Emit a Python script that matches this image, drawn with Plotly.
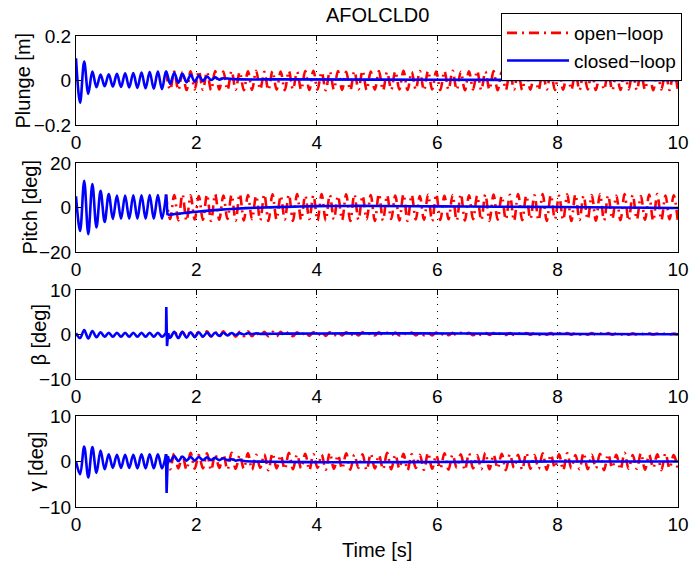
import plotly.graph_objects as go

# ---------------- data ----------------
HALF_PERIOD = 0.068          # half period of the limit-cycle oscillation [s]
t_grid = [round(k * HALF_PERIOD, 3) for k in range(148)]   # sampling of extrema, 0 .. 10 s
N_PRE = 23                   # extrema before control switch-on (t <= 1.5 s)

# closed-loop, before control (identical to open-loop there)
plunge_pre = [0.100, -0.100, 0.085, -0.060, 0.040, -0.030, 0.027, -0.026, 0.028, -0.027, 0.030, -0.029,
              0.032, -0.031, 0.034, -0.033, 0.036, -0.035, 0.038, -0.037, 0.040, -0.039, 0.041]
pitch_pre = [5.0, -10.5, 12.0, -12.0, 10.5, -9.0, 7.5, -6.5, 6.0, -5.2, 5.4, -5.0, 5.4, -5.0, 5.5, -5.0,
             5.5, -5.0, 5.6, -5.0, 5.6, -5.0, 5.8]
beta_pre = [0.3, -0.8, 1.0, -0.9, 0.8, -0.6, 0.5, -0.5, 0.4, -0.5, 0.4, -0.5, 0.4, -0.5, 0.4, -0.5,
            0.4, -0.5, 0.4, -0.5, 0.4, -0.5, 0.4]
gamma_pre = [0.0, -2.8, 3.3, -3.5, 3.2, -2.5, 2.4, -1.7, 1.6, -1.4, 1.5, -1.4, 1.5, -1.4, 1.5, -1.5,
             1.6, -1.5, 1.6, -1.5, 1.6, -1.5, 1.6]

# closed-loop after switch-on
plunge_post = [-0.015, 0.035, -0.010, 0.030, -0.008, 0.026, -0.005, 0.022, -0.002, 0.018, 0.002, 0.014, 0.004, 0.010]
plunge_tail_t = [2.6, 3.5, 5.0, 7.0, 8.5, 10.0]
plunge_tail_v = [0.006, 0.005, 0.004, 0.003, 0.002, 0.001]

pitch_jump_t = [1.496, 1.52]
pitch_jump_v = [5.8, -3.4]
pitch_tail_t = [1.52, 1.6, 1.8, 2.0, 2.25, 2.5, 2.75, 3.0, 3.5, 4.0, 4.5, 5.0, 6.0, 7.0, 8.0, 9.0, 10.0]
pitch_tail_v = [-3.4, -3.1, -2.5, -1.9, -1.3, -0.8, -0.4, -0.1, 0.3, 0.6, 0.7, 0.7, 0.5, 0.35, 0.2, 0.0, -0.2]

beta_spike_t = [1.496, 1.50, 1.512, 1.53]
beta_spike_v = [0.4, 6.2, -2.6, 0.3]
beta_post = [-0.8, 0.6, -0.8, 0.6, -0.7, 0.5, -0.6, 0.5, -0.5, 0.45, -0.4, 0.4, -0.3, 0.4, -0.2, 0.35,
             -0.1, 0.3, 0.0, 0.3, 0.1, 0.25, 0.15]
beta_tail_t = [3.5, 4.5, 5.5, 7.0, 8.5, 10.0]
beta_tail_v = [0.2, 0.25, 0.25, 0.2, 0.1, 0.05]

gamma_spike_t = [1.496, 1.505, 1.525]
gamma_spike_v = [1.6, -6.9, 1.2]
gamma_post = [0.0, 1.2, 0.1, 1.1, 0.2, 1.0, 0.2, 1.0, 0.3, 0.9, 0.3, 0.8, 0.3, 0.7, 0.3, 0.5, 0.2, 0.35, 0.1]
gamma_tail_t = [3.2, 4.0, 5.0, 6.0, 7.0, 8.0, 9.0, 10.0]
gamma_tail_v = [-0.05, -0.15, -0.15, -0.1, -0.05, 0.0, 0.0, 0.0]

# open-loop after 1.5 s (extrema on t_grid[22:])
plunge_open = [
    0.041, -0.042, 0.040, -0.044, 0.038, -0.043, 0.041, -0.040, 0.043, -0.041, 0.039, -0.044, 0.042, -0.040,
    0.040, -0.043, 0.043, -0.041, 0.038, -0.044, 0.041, -0.042, 0.044, -0.040, 0.039, -0.043, 0.042, -0.041,
    0.040, -0.044, 0.043, -0.040, 0.039, -0.042, 0.042, -0.043, 0.044, -0.041, 0.038, -0.044, 0.041, -0.040,
    0.043, -0.042, 0.039, -0.044, 0.042, -0.040, 0.044, -0.043, 0.040, -0.041, 0.042, -0.044, 0.038, -0.042,
    0.041, -0.040, 0.044, -0.043, 0.039, -0.041, 0.042, -0.044, 0.043, -0.040, 0.040, -0.043, 0.042, -0.041,
    0.044, -0.042, 0.039, -0.044, 0.041, -0.040, 0.043, -0.043, 0.040, -0.041, 0.042, -0.044, 0.038, -0.042,
    0.041, -0.040, 0.044, -0.043, 0.039, -0.041, 0.042, -0.044, 0.043, -0.040, 0.040, -0.043, 0.042, -0.041,
    0.044, -0.042, 0.039, -0.044, 0.041, -0.040, 0.043, -0.043, 0.040, -0.041, 0.042, -0.044, 0.038, -0.042,
    0.041, -0.040, 0.044, -0.043, 0.039, -0.041, 0.042, -0.044, 0.043, -0.040, 0.040, -0.043, 0.042, -0.041]
pitch_open = [
    5.8, -5.2, 5.6, -5.8, 5.9, -6.0, 5.5, -5.4, 5.2, -5.6, 5.8, -6.0, 6.0, -5.5,
    5.4, -5.2, 5.7, -5.9, 6.1, -5.8, 5.6, -5.3, 5.3, -5.7, 5.9, -6.1, 5.9, -5.4,
    5.3, -5.4, 5.8, -6.0, 6.0, -5.6, 5.4, -5.2, 5.5, -5.9, 6.1, -5.9, 5.7, -5.3,
    5.2, -5.6, 5.9, -6.1, 5.9, -5.5, 5.3, -5.3, 5.6, -6.0, 6.1, -5.8, 5.5, -5.2,
    5.4, -5.8, 6.0, -6.0, 5.7, -5.4, 5.2, -5.5, 5.8, -6.1, 6.0, -5.6, 5.3, -5.3,
    5.6, -5.9, 6.1, -5.9, 5.5, -5.3, 5.3, -5.7, 5.9, -6.0, 5.8, -5.5, 5.2, -5.4,
    5.7, -6.0, 6.0, -5.7, 5.4, -5.2, 5.5, -5.8, 6.0, -6.0, 5.6, -5.3, 5.3, -5.6,
    5.9, -6.1, 5.9, -5.6, 5.3, -5.3, 5.6, -5.9, 6.1, -5.8, 5.5, -5.2, 5.4, -5.7,
    6.0, -6.0, 5.7, -5.4, 5.2, -5.5, 5.8, -6.0, 6.0, -5.7, 5.4, -5.3, 5.5, -5.8]
beta_open = [
    0.4, -0.6, 0.7, -0.5, 0.6, -0.6, 0.7, -0.5, 0.6, -0.5, 0.7, -0.5, 0.6, -0.5,
    0.7, -0.4, 0.6, -0.5, 0.6, -0.4, 0.7, -0.4, 0.6, -0.4, 0.6, -0.4, 0.6, -0.4,
    0.6, -0.3, 0.6, -0.4, 0.5, -0.3, 0.6, -0.3, 0.5, -0.3, 0.6, -0.3, 0.5, -0.3,
    0.5, -0.2, 0.5, -0.3, 0.5, -0.2, 0.5, -0.2, 0.4, -0.2, 0.5, -0.2, 0.4, -0.2,
    0.45, -0.2, 0.4, -0.15, 0.45, -0.2, 0.4, -0.15, 0.4, -0.2, 0.45, -0.15, 0.4, -0.15,
    0.4, -0.15, 0.4, -0.1, 0.4, -0.15, 0.35, -0.1, 0.4, -0.1, 0.35, -0.1, 0.4, -0.1,
    0.35, -0.1, 0.35, -0.1, 0.35, -0.05, 0.3, -0.1, 0.35, -0.05, 0.3, -0.1, 0.3, -0.05,
    0.3, -0.05, 0.3, -0.05, 0.3, -0.05, 0.3, -0.05, 0.25, -0.05, 0.3, -0.05, 0.25, -0.05,
    0.25, -0.05, 0.25, 0.0, 0.25, -0.05, 0.25, 0.0, 0.2, 0.0, 0.25, 0.0, 0.2, 0.0]
gamma_open = [
    1.6, -1.7, 1.8, -1.5, 1.4, -1.8, 1.9, -1.6, 1.4, -1.5, 1.8, -1.9, 1.6, -1.4,
    1.5, -1.8, 1.9, -1.6, 1.4, -1.6, 1.8, -1.8, 1.5, -1.4, 1.6, -1.9, 1.8, -1.5,
    1.4, -1.7, 1.9, -1.7, 1.5, -1.5, 1.7, -1.9, 1.6, -1.4, 1.5, -1.8, 1.9, -1.6,
    1.4, -1.6, 1.8, -1.8, 1.5, -1.4, 1.6, -1.9, 1.7, -1.5, 1.4, -1.7, 1.9, -1.7,
    1.5, -1.5, 1.7, -1.9, 1.6, -1.4, 1.5, -1.8, 1.9, -1.6, 1.4, -1.6, 1.8, -1.8,
    1.5, -1.4, 1.6, -1.9, 1.8, -1.5, 1.4, -1.7, 1.9, -1.7, 1.5, -1.5, 1.7, -1.9,
    1.6, -1.4, 1.5, -1.8, 1.9, -1.6, 1.4, -1.6, 1.8, -1.8, 1.5, -1.4, 1.6, -1.9,
    1.8, -1.5, 1.4, -1.7, 1.9, -1.7, 1.5, -1.5, 1.7, -1.9, 1.6, -1.4, 1.5, -1.8,
    1.9, -1.6, 1.4, -1.6, 1.8, -1.8, 1.5, -1.4, 1.6, -1.9, 1.8, -1.5, 1.4, -1.7]

x_ticks = [0, 2, 4, 6, 8, 10]
y_labels = ["Plunge [m]", "Pitch [deg]", "β [deg]", "γ [deg]"]
y_limits = [0.2, 20, 10, 10]

# ---------------- figure ----------------
RED = "#ff0000"
BLUE = "#0000ff"
LW = 2.6
DASHDOT = "10px,5px,2px,5px"
FONT = "Liberation Sans, Arial, Helvetica, sans-serif"
FS_TICK = 19
FS_TEXT = 20

fig = go.Figure()

def add(x, y, axis, color, dash, shape, name=None, show=False):
    fig.add_trace(go.Scatter(
        x=x, y=y, mode="lines", xaxis="x" + axis, yaxis="y" + axis,
        line=dict(color=color, width=LW, dash=dash, shape=shape, smoothing=1.0),
        name=name, legendgroup=name if name else ("cl" if color == BLUE else "ol"),
        showlegend=show, hoverinfo="skip"))

t_pre = t_grid[:N_PRE]
t_open = t_grid[N_PRE - 1:]

# subplot 1: plunge
add(t_open, plunge_open, "", RED, DASHDOT, "spline", "open−loop", True)
add(t_pre + t_grid[N_PRE:N_PRE + len(plunge_post)] + plunge_tail_t,
    plunge_pre + plunge_post + plunge_tail_v, "", BLUE, "solid", "spline", "closed−loop", True)

# subplot 2: pitch
add(t_open, pitch_open, "2", RED, DASHDOT, "spline")
add(t_pre, pitch_pre, "2", BLUE, "solid", "spline")
add(pitch_jump_t, pitch_jump_v, "2", BLUE, "solid", "linear")
add(pitch_tail_t, pitch_tail_v, "2", BLUE, "solid", "spline")

# subplot 3: beta
add(t_open, beta_open, "3", RED, DASHDOT, "spline")
add(t_pre, beta_pre, "3", BLUE, "solid", "spline")
add(beta_spike_t, beta_spike_v, "3", BLUE, "solid", "linear")
add([beta_spike_t[-1]] + t_grid[N_PRE:N_PRE + len(beta_post)] + beta_tail_t,
    [beta_spike_v[-1]] + beta_post + beta_tail_v, "3", BLUE, "solid", "spline")

# subplot 4: gamma
add(t_open, gamma_open, "4", RED, DASHDOT, "spline")
add(t_pre, gamma_pre, "4", BLUE, "solid", "spline")
add(gamma_spike_t, gamma_spike_v, "4", BLUE, "solid", "linear")
add([gamma_spike_t[-1]] + t_grid[N_PRE:N_PRE + len(gamma_post)] + gamma_tail_t,
    [gamma_spike_v[-1]] + gamma_post + gamma_tail_v, "4", BLUE, "solid", "spline")

W, H = 689, 567
def px(v):
    return v / W
def py(v):
    return 1 - v / H

x_dom = [px(76), px(678)]
tops = [36, 163, 290, 416]
bots = [125, 252, 379, 507]

layout = dict(
    width=W, height=H, margin=dict(l=0, r=0, t=0, b=0, pad=0, autoexpand=False),
    paper_bgcolor="white", plot_bgcolor="white",
    font=dict(family=FONT, size=FS_TEXT, color="black"),
    showlegend=True,
    legend=dict(x=px(501), y=py(13), xanchor="left", yanchor="top",
                bgcolor="white", bordercolor="black", borderwidth=1,
                font=dict(family=FONT, size=19, color="black"),
                itemwidth=62, tracegroupgap=0),
)
annotations = []
for k in range(4):
    sfx = "" if k == 0 else str(k + 1)
    lim = y_limits[k]
    layout["xaxis" + sfx] = dict(
        domain=x_dom, anchor="y" + sfx, range=[0, 10], tickvals=x_ticks, automargin=False,
        ticks="inside", ticklen=5, tickcolor="black", showline=True, linecolor="black",
        linewidth=1, mirror="ticks", showgrid=True, gridcolor="black", gridwidth=1,
        griddash="1px,6px", zeroline=False, tickfont=dict(family=FONT, size=FS_TICK))
    layout["yaxis" + sfx] = dict(
        domain=[py(bots[k]), py(tops[k])], anchor="x" + sfx, range=[-lim, lim],
        tickvals=[-lim, 0, lim], ticks="inside", ticklen=5, tickcolor="black", automargin=False,
        showline=True, linecolor="black", linewidth=1, mirror="ticks", showgrid=False,
        zeroline=False, tickfont=dict(family=FONT, size=FS_TICK))
    annotations.append(dict(
        text=y_labels[k], textangle=-90, xref="paper", yref="paper",
        x=px([23, 29, 38, 35][k]), y=py((tops[k] + bots[k]) / 2),
        showarrow=False, xanchor="center", yanchor="middle",
        font=dict(family=FONT, size=FS_TEXT)))

annotations.append(dict(text="AFOLCLD0", xref="paper", yref="paper", x=px(377), y=py(15),
                        showarrow=False, xanchor="center", yanchor="middle",
                        font=dict(family=FONT, size=FS_TEXT)))
annotations.append(dict(text="Time [s]", xref="paper", yref="paper", x=px(377), y=py(550),
                        showarrow=False, xanchor="center", yanchor="middle",
                        font=dict(family=FONT, size=FS_TEXT)))
layout["annotations"] = annotations
fig.update_layout(**layout)

# remove the default 8 px page margin so the figure fills the window exactly
fig.write_html("out.html", config={"displayModeBar": False},
               post_script="document.body.style.margin='0';document.body.style.overflow='hidden';")
